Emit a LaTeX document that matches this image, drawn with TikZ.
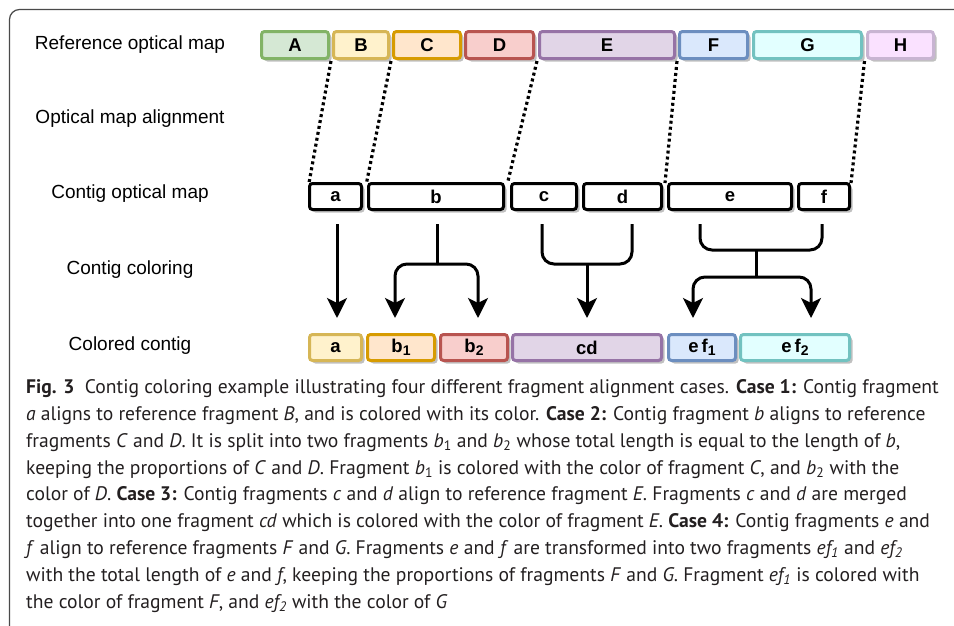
\documentclass[tikz,border=0pt]{standalone}
\usepackage{fontspec}
\setmainfont{Liberation Sans}
\newfontfamily\capfont{PT Sans}
\usetikzlibrary{arrows.meta,shadows}
\definecolor{fA}{HTML}{D5E8D4}\definecolor{dA}{HTML}{82B366}
\definecolor{fB}{HTML}{FFF2CC}\definecolor{dB}{HTML}{D6B656}
\definecolor{fC}{HTML}{FFE6CC}\definecolor{dC}{HTML}{D79B00}
\definecolor{fD}{HTML}{F8CECC}\definecolor{dD}{HTML}{B85450}
\definecolor{fE}{HTML}{E1D5E7}\definecolor{dE}{HTML}{9673A6}
\definecolor{fF}{HTML}{DAE8FC}\definecolor{dF}{HTML}{6C8EBF}
\definecolor{fG}{HTML}{E2FFFF}\definecolor{dG}{HTML}{72C2C0}
\definecolor{fH}{HTML}{FAE1FF}\definecolor{dH}{HTML}{C8B4D2}
\definecolor{framec}{HTML}{4A4A4A}
\definecolor{capc}{HTML}{231F20}
\newcommand\sub[1]{\raisebox{-0.35ex}{\fontsize{14}{14}\selectfont #1}}
\begin{document}
\begin{tikzpicture}[x=1pt,y=-1pt,
  frag/.style={draw, line width=3pt, rounded corners=3pt, inner sep=0pt,
    font=\fontsize{18.5}{18.5}\selectfont\bfseries,
    drop shadow={shadow xshift=3pt, shadow yshift=-3pt, fill=black!45, opacity=0.55}},
  reffrag/.style={frag, minimum height=27pt},
  ctgfrag/.style={frag, fill=white, draw=black, minimum height=26pt},
  colfrag/.style={frag, minimum height=26pt},
  rowlabel/.style={font=\fontsize{19}{19}\selectfont, inner sep=0pt},
  dotline/.style={line width=3.2pt, dash pattern=on 3pt off 3pt},
  conn/.style={line width=3pt, rounded corners=12pt},
  tip/.style={-{Stealth[length=20pt,width=20pt,inset=5pt]}},
  capline/.style={anchor=mid west, inner sep=0pt, text=capc,
    font=\capfont\fontsize{19.6}{19.6}\selectfont}
]
\useasboundingbox (0,0) rectangle (954,625);
% frame
\draw[framec, line width=1.2pt, rounded corners=10pt] (954,9.5) -- (9.5,9.5) -- (9.5,626);

% row labels
\node[rowlabel] (l1) at (130,45) {Reference optical map};
\node[rowlabel] (l2) at (130,119) {Optical map alignment};
\node[rowlabel] (l3) at (130,194) {Contig optical map};
\node[rowlabel] (l4) at (130,270) {Contig coloring};
\node[rowlabel] (l5) at (130,346) {Colored contig};

% reference fragments
\node[reffrag, fill=fA, draw=dA, minimum width=67pt] (refA) at (295,45) {A};
\node[reffrag, fill=fB, draw=dB, minimum width=55pt] (refB) at (361,45) {B};
\node[reffrag, fill=fC, draw=dC, minimum width=67pt] (refC) at (427,45) {C};
\node[reffrag, fill=fD, draw=dD, minimum width=68pt] (refD) at (499.5,45) {D};
\node[reffrag, fill=fE, draw=dE, minimum width=135pt] (refE) at (607,45) {E};
\node[reffrag, fill=fF, draw=dF, minimum width=68pt] (refF) at (713.5,45) {F};
\node[reffrag, fill=fG, draw=dG, minimum width=108pt] (refG) at (807.5,45) {G};
\node[reffrag, fill=fH, draw=dH, minimum width=66pt] (refH) at (900.5,45) {H};

% contig fragments
\node[ctgfrag, minimum width=52pt] (ca) at (335.5,196.5) {a};
\node[ctgfrag, minimum width=135pt] (cb) at (436,196.5) {b};
\node[ctgfrag, minimum width=65pt] (cc) at (544,196.5) {c};
\node[ctgfrag, minimum width=78pt] (cd) at (622.5,196.5) {d};
\node[ctgfrag, minimum width=123pt] (ce) at (730,196.5) {e};
\node[ctgfrag, minimum width=51pt] (cf) at (824,196.5) {f};

% colored contig
\node[colfrag, fill=fB, draw=dB, minimum width=52pt] (ka) at (335.5,347.5) {a};
\node[colfrag, fill=fC, draw=dC, minimum width=67pt] (kb1) at (401,347.5) {b\sub{1}};
\node[colfrag, fill=fD, draw=dD, minimum width=67pt] (kb2) at (474,347.5) {b\sub{2}};
\node[colfrag, fill=fE, draw=dE, minimum width=149pt] (kcd) at (587,347.5) {cd};
\node[colfrag, fill=fF, draw=dF, minimum width=67pt] (kef1) at (702,347.5) {e\,f\sub{1}};
\node[colfrag, fill=fG, draw=dG, minimum width=109pt] (kef2) at (795,347.5) {e\,f\sub{2}};

% alignment dotted lines
\coordinate (u1) at (331,61);  \coordinate (w1) at (309,183);
\coordinate (u2) at (391,61);  \coordinate (w2) at (366.5,183);
\coordinate (u3) at (537,61);  \coordinate (w3) at (507.5,183);
\coordinate (u4) at (677,61);  \coordinate (w4) at (665,183);
\coordinate (u5) at (864.5,61);\coordinate (w5) at (851,183);
\foreach \i in {1,...,5} \draw[dotline] (u\i) -- (w\i);

% coloring connectors
% case 1
\coordinate (sa) at (337,224); \coordinate (ta) at (337,318);
\draw[conn, tip] (sa) -- (ta);
% case 2
\coordinate (sb) at (437,224); \coordinate (jb) at (437,264);
\coordinate (tb1) at (395,318); \coordinate (tb2) at (478,318);
\draw[conn] (sb) -- (jb);
\draw[conn, tip] (jb) -| (tb1);
\draw[conn, tip] (jb) -| (tb2);
% case 3
\coordinate (sc) at (542,224); \coordinate (sd) at (632,224);
\coordinate (jcd) at (587,264); \coordinate (tcd) at (587,318);
\draw[conn] (sc) |- (jcd) -| (sd);
\draw[conn, tip] (jcd) -- (tcd);
% case 4
\coordinate (se) at (700,224); \coordinate (sf) at (822,224);
\coordinate (jef) at (756,250); \coordinate (kef) at (756,277);
\coordinate (te1) at (693,318); \coordinate (te2) at (811,318);
\draw[conn] (se) |- (jef) -| (sf);
\draw[conn] (jef) -- (kef);
\draw[conn, tip] (kef) -| (te1);
\draw[conn, tip] (kef) -| (te2);

% caption
\node[capline] (c1) at (26,391) {\textbf{Fig. 3}\ \ Contig coloring example illustrating four different fragment alignment cases. \textbf{Case 1:} Contig fragment};
\node[capline] (c2) at (26,417.8) {\textit{a} aligns to reference fragment \textit{B}, and is colored with its color. \textbf{Case 2:} Contig fragment \textit{b} aligns to reference};
\node[capline] (c3) at (26,444.6) {fragments \textit{C} and \textit{D}. It is split into two fragments \textit{b}\textsubscript{1} and \textit{b}\textsubscript{2} whose total length is equal to the length of \textit{b},};
\node[capline] (c4) at (26,471.4) {keeping the proportions of \textit{C} and \textit{D}. Fragment \textit{b}\textsubscript{1} is colored with the color of fragment \textit{C}, and \textit{b}\textsubscript{2} with the};
\node[capline] (c5) at (26,498.2) {color of \textit{D}. \textbf{Case 3:} Contig fragments \textit{c} and \textit{d} align to reference fragment \textit{E}. Fragments \textit{c} and \textit{d} are merged};
\node[capline] (c6) at (26,525) {together into one fragment \textit{cd} which is colored with the color of fragment \textit{E}. \textbf{Case 4:} Contig fragments \textit{e} and};
\node[capline] (c7) at (26,551.8) {\textit{f} align to reference fragments \textit{F} and \textit{G}. Fragments \textit{e} and \textit{f} are transformed into two fragments \textit{ef\textsubscript{1}} and \textit{ef\textsubscript{2}}};
\node[capline] (c8) at (26,578.6) {with the total length of \textit{e} and \textit{f}, keeping the proportions of fragments \textit{F} and \textit{G}. Fragment \textit{ef\textsubscript{1}} is colored with};
\node[capline] (c9) at (26,605.4) {the color of fragment \textit{F}, and \textit{ef\textsubscript{2}} with the color of \textit{G}};
\end{tikzpicture}
\end{document}
